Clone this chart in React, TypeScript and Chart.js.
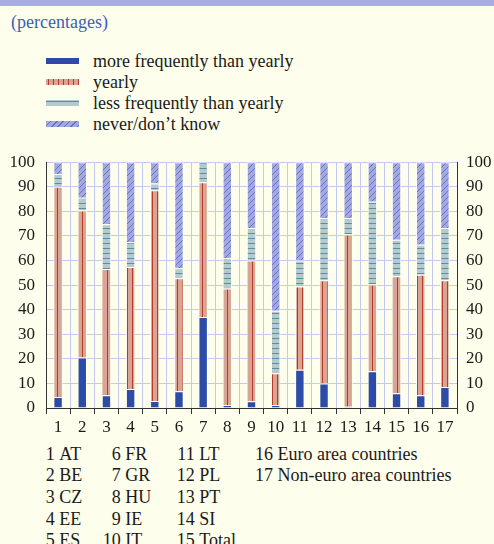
import React, { useEffect, useRef } from "react";
import { Chart, registerables } from "chart.js";

Chart.register(...registerables);

const categories = ["1", "2", "3", "4", "5", "6", "7", "8", "9", "10", "11", "12", "13", "14", "15", "16", "17"];
const categoryNames = ["AT", "BE", "CZ", "EE", "ES", "FR", "GR", "HU", "IE", "IT", "LT", "PL", "PT", "SI", "Total", "Euro area countries", "Non-euro area countries"];

const moreFrequently = [4.5, 20.5, 5.2, 7.7, 2.8, 6.8, 37, 1.2, 2.7, 1.2, 15.6, 10, 0.5, 15, 6, 5.2, 8.5];
const yearly = [85.5, 59.9, 51.4, 49.7, 85.8, 46, 54.8, 47.4, 57.3, 12.9, 33.8, 42, 70.1, 35.2, 47.6, 49, 43.5];
const lessFrequently = [5.2, 5.1, 18.2, 10, 2.7, 4.1, 8.2, 12.4, 13.2, 25.5, 10.6, 25.3, 6.7, 33.7, 14.9, 12.2, 21.2];
const neverDontKnow = [4.8, 14.5, 25.2, 32.6, 8.7, 43.1, 0, 39, 26.8, 60.4, 40, 22.7, 22.7, 16.1, 31.5, 33.6, 26.8];

const seriesLabels = ["more frequently than yearly", "yearly", "less frequently than yearly", "never/don\u2019t know"];

const BG = "#fefeec";
const BLUE = "#2c4ca8";
const SALMON = "#d8a494";
const RED = "#b83a28";
const GREYBLUE = "#b4cacc";
const TEAL = "#5a8ea0";
const LAVENDER = "#a3a9df";
const LAV_LINE = "#6873c6";
const GRID = "#c6c9ef";
const FONT = '"Liberation Serif", "DejaVu Serif", serif';

function makePattern(w: number, h: number, draw: (ctx: CanvasRenderingContext2D) => void): CanvasPattern | string {
  const c = document.createElement("canvas");
  c.width = w;
  c.height = h;
  const ctx = c.getContext("2d");
  if (!ctx) return "#888";
  draw(ctx);
  return ctx.createPattern(c, "repeat") || "#888";
}

const swatchStyles: React.CSSProperties[] = [
  { background: BLUE },
  { background: `repeating-linear-gradient(90deg, ${SALMON} 0 2px, ${RED} 2px 3px, ${SALMON} 3px 5px)` },
  { background: `repeating-linear-gradient(180deg, ${GREYBLUE} 0 1px, ${TEAL} 1px 2px, ${GREYBLUE} 2px 5px)` },
  { background: `repeating-linear-gradient(135deg, ${LAVENDER} 0 3px, ${LAV_LINE} 3px 4px, ${LAVENDER} 4px 4.5px)` },
];

function BarChart() {
  const ref = useRef<HTMLCanvasElement | null>(null);
  useEffect(() => {
    if (!ref.current) return;
    const yearlyPat = makePattern(5, 1, (ctx) => {
      ctx.fillStyle = SALMON;
      ctx.fillRect(0, 0, 5, 1);
      ctx.fillStyle = RED;
      ctx.fillRect(2, 0, 1, 1);
    });
    const lessPat = makePattern(1, 5, (ctx) => {
      ctx.fillStyle = GREYBLUE;
      ctx.fillRect(0, 0, 1, 5);
      ctx.fillStyle = TEAL;
      ctx.fillRect(0, 2, 1, 1);
    });
    const neverPat = makePattern(6, 6, (ctx) => {
      ctx.fillStyle = LAVENDER;
      ctx.fillRect(0, 0, 6, 6);
      ctx.strokeStyle = LAV_LINE;
      ctx.lineWidth = 1;
      ctx.beginPath();
      ctx.moveTo(0, 6);
      ctx.lineTo(6, 0);
      ctx.moveTo(-1, 1);
      ctx.lineTo(1, -1);
      ctx.moveTo(5, 7);
      ctx.lineTo(7, 5);
      ctx.stroke();
    });

    const border = "rgba(255,255,250,0.9)";
    const common = { borderWidth: 1, borderColor: border, categoryPercentage: 1, barPercentage: 0.39, yAxisID: "y" };

    const chart = new Chart(ref.current, {
      type: "bar",
      data: {
        labels: categories,
        datasets: [
          { label: seriesLabels[0], data: moreFrequently, backgroundColor: BLUE, ...common },
          { label: seriesLabels[1], data: yearly, backgroundColor: yearlyPat as any, ...common },
          { label: seriesLabels[2], data: lessFrequently, backgroundColor: lessPat as any, ...common },
          { label: seriesLabels[3], data: neverDontKnow, backgroundColor: neverPat as any, ...common },
        ],
      },
      options: {
        responsive: false,
        animation: false,
        devicePixelRatio: 1,
        layout: { padding: { top: 17, left: 0, right: 0, bottom: 0 } },
        plugins: { legend: { display: false }, tooltip: { enabled: false }, title: { display: false } },
        scales: {
          x: {
            stacked: true,
            offset: true,
            grid: { color: GRID, tickColor: "#333", tickLength: 6, offset: true, lineWidth: 1 },
            border: { color: "#333", width: 1 },
            ticks: { color: "#1a1a1a", font: { family: FONT, size: 17 }, padding: 3, maxRotation: 0, autoSkip: false },
            afterFit: (s: any) => { s.height = 33; },
          },
          y: {
            stacked: true,
            position: "left",
            min: 0,
            max: 100,
            grid: { color: GRID, drawTicks: false, lineWidth: 1 },
            border: { color: "#333", width: 1 },
            ticks: { stepSize: 10, padding: 11, color: "#1a1a1a", font: { family: FONT, size: 17 } },
            afterFit: (s: any) => { s.width = 46; },
          },
          y2: {
            position: "right",
            min: 0,
            max: 100,
            grid: { display: false, drawTicks: false },
            border: { display: true, color: "#333", width: 1 },
            ticks: { stepSize: 10, padding: 9, color: "#1a1a1a", font: { family: FONT, size: 17 } },
            afterFit: (s: any) => { s.width = 37; },
          },
        },
      },
    } as any);
    return () => chart.destroy();
  }, []);
  return <canvas ref={ref} width={494} height={300} style={{ position: "absolute", left: 0, top: 141, width: 494, height: 300 }} />;
}

const legendCenters = [60.5, 81.5, 102.5, 124];
const listRowCenters = [453.5, 475, 497, 518.5, 540];
const listColumnNumberRight = [54.7, 120.7, 194.7, 273];

export default function App() {
  return (
    <div
      style={{
        position: "absolute",
        left: 0,
        top: 0,
        width: 494,
        height: 544,
        background: BG,
        overflow: "hidden",
        fontFamily: FONT,
        fontSize: 18,
        color: "#1a1a1a",
      }}
    >
      <div style={{ position: "absolute", left: 0, top: 0, width: 494, height: 6, background: "#a9aee0" }} />
      <div style={{ position: "absolute", left: 11, top: 11, lineHeight: "22px", color: "#3d5cbf" }}>(percentages)</div>
      {seriesLabels.map((lab, i) => (
        <div key={lab} style={{ position: "absolute", left: 0, top: legendCenters[i] - 11, height: 22, width: 494 }}>
          <div style={{ position: "absolute", left: 46, top: 8, width: 33, height: 6, ...swatchStyles[i] }} />
          <div style={{ position: "absolute", left: 93, top: 0, lineHeight: "22px", whiteSpace: "nowrap" }}>{lab}</div>
        </div>
      ))}
      <BarChart />
      {categoryNames.map((name, i) => {
        const col = Math.floor(i / 5);
        const row = i % 5;
        const right = listColumnNumberRight[col];
        const top = listRowCenters[row] - 11;
        return (
          <React.Fragment key={name}>
            <span style={{ position: "absolute", left: right - 30, width: 30, top, lineHeight: "22px", textAlign: "right" }}>{categories[i]}</span>
            <span style={{ position: "absolute", left: right + 4.5, top, lineHeight: "22px", whiteSpace: "nowrap" }}>{name}</span>
          </React.Fragment>
        );
      })}
    </div>
  );
}
